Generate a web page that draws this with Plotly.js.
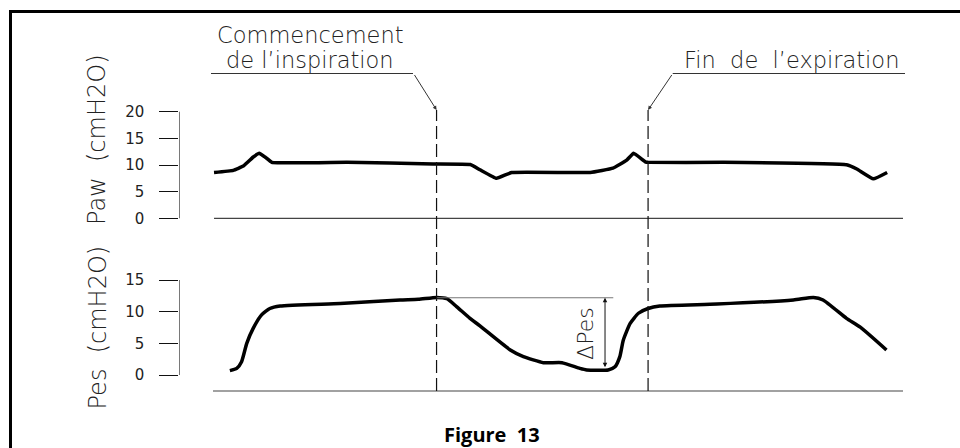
<!DOCTYPE html>
<html><head><meta charset="utf-8">
<script src="https://cdn.plot.ly/plotly-3.0.1.min.js"></script>
<style>html,body{margin:0;padding:0;background:#fff}#chart{width:960px;height:448px}</style>
</head><body><div id="chart"></div>
<script>
// ---- data (time in arbitrary units, pressures in cmH2O) ----
const pawTime   = [0, 2.8, 4.25, 5.7, 6.57, 7.4, 8.4, 19.3, 31.8, 37.2, 38.6, 41.0, 43.2, 54.6, 57.9, 59.9, 60.9, 62.6, 63.0, 73.9, 91.8, 93.3, 95.7, 97.7];
const pawValues = [8.6, 9.0, 9.8, 11.5, 12.2, 11.5, 10.5, 10.5, 10.2, 10.1, 9.1, 7.5, 8.6, 8.6, 9.4, 10.9, 12.2, 10.6, 10.5, 10.5, 10.05, 9.25, 7.4, 8.6];
const pesTime   = [2.3, 3.3, 4.0, 4.75, 5.7, 6.9, 8.1, 9.6, 18.3, 27.0, 29.65, 32.3, 33.8, 35.2, 37.15, 38.6, 43.0, 44.9, 47.8, 50.5, 53.1, 54.1, 57.2, 58.2, 58.9, 59.4, 60.4, 61.6, 63.0, 64.7, 73.0, 84.1, 87.0, 88.4, 91.8, 93.8, 97.6];
const pesValues = [0.7, 1.05, 2.1, 5.0, 7.4, 9.5, 10.5, 10.9, 11.3, 11.85, 11.95, 12.25, 12.05, 10.8, 8.95, 7.75, 3.95, 2.9, 1.95, 1.95, 1.05, 0.8, 0.8, 1.3, 2.9, 5.5, 8.15, 9.75, 10.5, 10.9, 11.2, 11.85, 12.25, 11.85, 8.95, 7.55, 3.95];
const eventTimes  = [32.3, 63.0];
const pawTicks    = [0, 5, 10, 15, 20];
const pesTicks    = [0, 5, 10, 15];
const deltaTime   = [32.3, 57.95];   // reference line from Pes peak
const deltaLevels = [12.2, 1.0];     // Pes peak and trough for ΔPes
const deltaArrowTime = 56.75;

// ---- layout helpers (pixel -> paper) ----
const W = 960, H = 448;
const PX = p => p / W;
const PY = p => 1 - p / H;
const FONT = 'DejaVu Sans';
const xRange = [-5.04, 100];

const traces = [
  {x: pawTime, y: pawValues, xaxis: 'x', yaxis: 'y', mode: 'lines', cliponaxis: false,
   line: {color: '#000', width: 3.5, shape: 'spline', smoothing: 0.3}, hoverinfo: 'skip'},
  {x: [0, 100], y: [0, 0], xaxis: 'x', yaxis: 'y', mode: 'lines', cliponaxis: false,
   line: {color: '#444', width: 1.2}, hoverinfo: 'skip'},
  {x: [xRange[0], xRange[0]], y: [pawTicks[0], pawTicks[pawTicks.length-1]], xaxis: 'x', yaxis: 'y', mode: 'lines', cliponaxis: false,
   line: {color: '#111', width: 1}, hoverinfo: 'skip'},
  {x: pesTime, y: pesValues, xaxis: 'x', yaxis: 'y2', mode: 'lines', cliponaxis: false,
   line: {color: '#000', width: 3.5, shape: 'spline', smoothing: 0.5}, hoverinfo: 'skip'},
  {x: [-0.15, 100], y: [-2.53, -2.53], xaxis: 'x', yaxis: 'y2', mode: 'lines', cliponaxis: false,
   line: {color: '#444', width: 1.2}, hoverinfo: 'skip'},
  {x: [xRange[0], xRange[0]], y: [pesTicks[0], pesTicks[pesTicks.length-1]], xaxis: 'x', yaxis: 'y2', mode: 'lines', cliponaxis: false,
   line: {color: '#111', width: 1}, hoverinfo: 'skip'},
  {x: deltaTime, y: [deltaLevels[0], deltaLevels[0]], xaxis: 'x', yaxis: 'y2', mode: 'lines', cliponaxis: false,
   line: {color: '#777', width: 1.2}, hoverinfo: 'skip'}
];

const shapes = [
  {type: 'rect', xref: 'paper', yref: 'paper', x0: PX(10.5), x1: 1.1, y0: -0.1, y1: PY(11.5),
   line: {color: '#000', width: 3}, fillcolor: 'rgba(0,0,0,0)'},
  {type: 'line', xref: 'paper', yref: 'paper', x0: PX(211), x1: PX(413), y0: PY(73.5), y1: PY(73.5),
   line: {color: '#333', width: 1}},
  {type: 'line', xref: 'paper', yref: 'paper', x0: PX(672.7), x1: PX(905), y0: PY(73.5), y1: PY(73.5),
   line: {color: '#333', width: 1}}
];
eventTimes.forEach(t => shapes.push({
  type: 'line', xref: 'x', yref: 'paper', x0: t, x1: t, y0: PY(391), y1: PY(110),
  line: {color: '#111', width: 1.2, dash: '13px,5px'}
}));

const tf = (s, c) => ({family: FONT, size: s, color: c || '#222', weight: 300});
const annotations = [
  {xref: 'paper', yref: 'paper', x: PX(310), y: PY(34.5), text: 'Commencement', showarrow: false,
   xanchor: 'center', yanchor: 'middle', font: tf(22.5)},
  {xref: 'paper', yref: 'paper', x: PX(310), y: PY(59.5), text: 'de l’inspiration', showarrow: false,
   xanchor: 'center', yanchor: 'middle', font: tf(22.5)},
  {xref: 'paper', yref: 'paper', x: PX(791), y: PY(59.5), text: 'Fin\u00a0 de\u00a0 l’expiration', showarrow: false,
   xanchor: 'center', yanchor: 'middle', font: tf(22.5)},
  // callout arrows (offsets in pixels from the arrow tip to the underline end)
  {xref: 'x', yref: 'paper', x: eventTimes[0], y: PY(110), axref: 'pixel', ayref: 'pixel', ax: -23, ay: -36.5,
   text: '', showarrow: true, arrowhead: 2, arrowsize: 0.8, arrowwidth: 1, arrowcolor: '#333', standoff: 0, startstandoff: 0},
  {xref: 'x', yref: 'paper', x: eventTimes[1], y: PY(110), axref: 'pixel', ayref: 'pixel', ax: 24.7, ay: -36.5,
   text: '', showarrow: true, arrowhead: 2, arrowsize: 0.8, arrowwidth: 1, arrowcolor: '#333', standoff: 0, startstandoff: 0},
  {xref: 'paper', yref: 'paper', x: PX(97), y: PY(140), text: 'Paw\u00a0 (cmH2O)', textangle: -90, showarrow: false,
   xanchor: 'center', yanchor: 'middle', font: tf(24)},
  {xref: 'paper', yref: 'paper', x: PX(97), y: PY(327.5), text: 'Pes\u00a0 (cmH2O)', textangle: -90, showarrow: false,
   xanchor: 'center', yanchor: 'middle', font: tf(24)},
  {xref: 'x', yref: 'y2', x: 54.0, y: 6.5, text: 'ΔPes', textangle: -90, showarrow: false,
   xanchor: 'center', yanchor: 'middle', font: tf(22)},
  {xref: 'x', yref: 'y2', x: deltaArrowTime, y: deltaLevels[0], axref: 'x', ayref: 'y2', ax: deltaArrowTime, ay: deltaLevels[1],
   text: '', showarrow: true, arrowside: 'end+start', arrowhead: 2, arrowsize: 0.9, arrowwidth: 1, arrowcolor: '#111', standoff: 0, startstandoff: 0},
  {xref: 'paper', yref: 'paper', x: PX(492), y: PY(434), text: '<b>Figure\u00a0 13</b>', showarrow: false,
   xanchor: 'center', yanchor: 'middle', font: {family: 'Open Sans', size: 20, color: '#000'}}
];

const yCommon = {
  ticks: 'outside', ticklen: 19, tickwidth: 1, tickcolor: '#111', showline: false, showgrid: false, zeroline: false,
  tickfont: {family: FONT, size: 15, color: '#222'}, ticklabelstandoff: 12, anchor: 'x', fixedrange: true
};

const layout = {
  width: W, height: H, margin: {l: 0, r: 0, t: 0, b: 0},
  paper_bgcolor: '#fff', plot_bgcolor: 'rgba(0,0,0,0)', showlegend: false,
  xaxis: {domain: [PX(179.3), PX(903)], range: xRange, visible: false, anchor: 'y', fixedrange: true},
  yaxis: Object.assign({}, yCommon, {domain: [PY(223.63), PY(106.37)], range: [-1, 21], tickvals: pawTicks}),
  yaxis2: Object.assign({}, yCommon, {domain: [PY(394), PY(273.67)], range: [-3, 16], tickvals: pesTicks}),
  shapes: shapes, annotations: annotations
};

Plotly.newPlot('chart', traces, layout, {displayModeBar: false, staticPlot: true});
</script>
</body></html>
